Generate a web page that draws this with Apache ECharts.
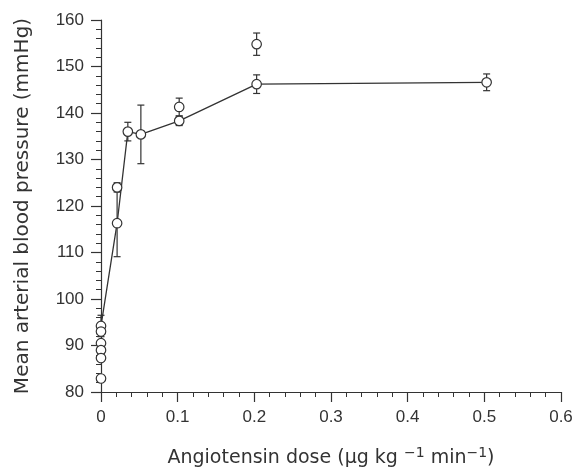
<!DOCTYPE html>
<html>
<head>
<meta charset="utf-8">
<script src="https://cdn.jsdelivr.net/npm/echarts@6/dist/echarts.min.js"></script>
<style>html,body{margin:0;padding:0;background:#fff;}#c{width:575px;height:472px;}</style>
</head>
<body>
<div id="c"></div>
<script>
// Mean (connected) points
var lineDose = [0, 0.021, 0.035, 0.052, 0.102, 0.203, 0.503];
var linePressure = [94.2, 116.3, 136.0, 135.4, 138.3, 146.2, 146.6];
var lineErr = [2.3, 7.2, 2.0, 6.3, 1.0, 2.0, 1.8];
// Individual (unconnected) points
var extraDose = [0, 0, 0, 0, 0, 0.021, 0.102, 0.203];
var extraPressure = [93.0, 90.5, 89.0, 87.3, 82.9, 124.0, 141.3, 154.8];
var extraErr = [0, 0, 0, 0, 0, 1.0, 1.9, 2.4];
var xTicks = [0, 0.1, 0.2, 0.3, 0.4, 0.5, 0.6];
var yTicks = [80, 90, 100, 110, 120, 130, 140, 150, 160];

var ink = '#333333';
var lineData = lineDose.map(function (d, i) { return [d, linePressure[i]]; });
var extraData = extraDose.map(function (d, i) { return [d, extraPressure[i]]; });
var allPts = lineData.concat(extraData);
var allErr = lineErr.concat(extraErr);
var errData = allPts.map(function (p, i) { return [p[0], p[1], allErr[i]]; }).filter(function (e) { return e[2] > 0; });

var chart = echarts.init(document.getElementById('c'), null, {renderer: 'canvas'});
var font = '"Liberation Sans", Arial, sans-serif';
var titleFont = '"DejaVu Sans", "Liberation Sans", sans-serif';
chart.setOption({
  backgroundColor: '#ffffff',
  animation: false,
  grid: {left: 101, right: 14, top: 20, bottom: 80, containLabel: false, outerBoundsMode: 'none'},
  xAxis: {
    type: 'value', min: xTicks[0], max: xTicks[xTicks.length - 1], interval: 0.1,
    name: 'Angiotensin dose (μg kg {sup|−1} min{sup|−1})', nameLocation: 'middle', nameGap: 54,
    nameTextStyle: {fontFamily: titleFont, fontSize: 19, color: ink, lineHeight: 24,
      rich: {sup: {fontFamily: titleFont, fontSize: 14, color: ink, verticalAlign: 'top', lineHeight: 24}}},
    axisLine: {show: true, lineStyle: {color: ink, width: 1.2}},
    axisTick: {show: true, inside: false, length: 10, lineStyle: {color: ink, width: 1.2}},
    minorTick: {show: true, splitNumber: 5, length: 5, lineStyle: {color: ink, width: 1}},
    axisLabel: {fontFamily: font, fontSize: 17, color: ink, margin: 17,
      formatter: function (v) { return v === 0 ? '0' : v.toFixed(1); }},
    splitLine: {show: false}
  },
  yAxis: {
    type: 'value', min: yTicks[0], max: yTicks[yTicks.length - 1], interval: 10,
    name: 'Mean arterial blood pressure (mmHg)', nameLocation: 'middle', nameGap: 68,
    nameTextStyle: {fontFamily: titleFont, fontSize: 20, color: ink},
    axisLine: {show: true, lineStyle: {color: ink, width: 1.2}},
    axisTick: {show: true, inside: false, length: 10, lineStyle: {color: ink, width: 1.2}},
    minorTick: {show: true, splitNumber: 5, length: 5, lineStyle: {color: ink, width: 1}},
    axisLabel: {fontFamily: font, fontSize: 17, color: ink, margin: 17},
    splitLine: {show: false}
  },
  series: [
    {
      type: 'line', data: lineData, symbol: 'none', z: 1,
      lineStyle: {color: ink, width: 1.3}
    },
    {
      type: 'custom', z: 2, data: errData,
      renderItem: function (params, api) {
        var x = api.value(0), y = api.value(1), e = api.value(2);
        var top = api.coord([x, y + e]);
        var bot = api.coord([x, y - e]);
        var w = 3.5;
        var st = {stroke: ink, lineWidth: 1.2};
        return {type: 'group', children: [
          {type: 'line', shape: {x1: top[0], y1: top[1], x2: bot[0], y2: bot[1]}, style: st},
          {type: 'line', shape: {x1: top[0] - w, y1: top[1], x2: top[0] + w, y2: top[1]}, style: st},
          {type: 'line', shape: {x1: bot[0] - w, y1: bot[1], x2: bot[0] + w, y2: bot[1]}, style: st}
        ]};
      }
    },
    {
      type: 'scatter', data: allPts, z: 3, symbol: 'circle', symbolSize: 9.5,
      itemStyle: {color: '#ffffff', borderColor: ink, borderWidth: 1.2, opacity: 1}
    }
  ]
});
</script>
</body>
</html>
